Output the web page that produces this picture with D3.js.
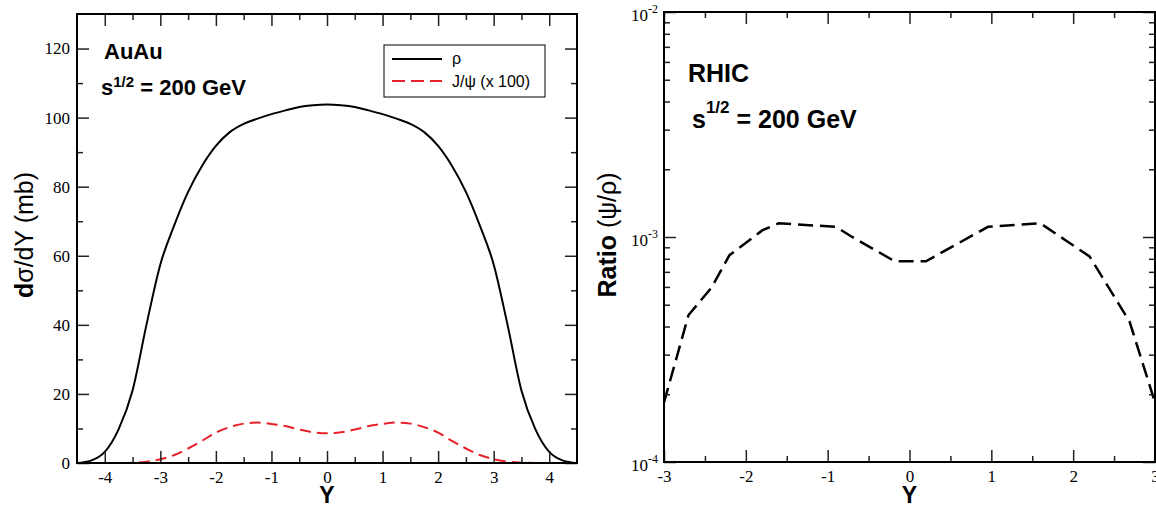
<!DOCTYPE html>
<html>
<head>
<meta charset="utf-8">
<script src="https://cdn.jsdelivr.net/npm/d3@7"></script>
<style>
  body { margin: 0; background: #fff; }
  svg { display: block; }
  .tick text { font-family: "Liberation Serif", "Times New Roman", serif; font-size: 17px; fill: #000; }
  .tick line { stroke: #222; stroke-width: 1.5; }
  .sans { font-family: "Liberation Sans", Arial, Helvetica, sans-serif; }
</style>
</head>
<body>
<svg id="chart" width="1156" height="507"></svg>
<script>
// ----- data -----

// left panel: rho cross section (mb) vs rapidity Y
const rhoY = [-4.5, -4.25, -4, -3.75, -3.5, -3.25, -3, -2.75, -2.5, -2.25, -2, -1.75, -1.5, -1.25, -1, -0.75, -0.5, -0.25, 0,
              0.25, 0.5, 0.75, 1, 1.25, 1.5, 1.75, 2, 2.25, 2.5, 2.75, 3, 3.25, 3.5, 3.75, 4, 4.25, 4.5];
const rhoVals = [0, 0.7, 3.2, 9.8, 21, 40, 57.5, 68.8, 78.5, 86, 91.8, 95.8, 98.2, 99.7, 101, 102.1, 103.1, 103.6, 103.8,
                 103.6, 103.1, 102.1, 101, 99.7, 98.2, 95.8, 91.8, 86, 78.5, 68.8, 57.5, 40, 21, 9.8, 3.2, 0.7, 0];

// left panel: J/psi (x 100)
const psiY = [-4, -3.75, -3.5, -3.25, -3, -2.75, -2.5, -2.25, -2, -1.75, -1.5, -1.25, -1, -0.75, -0.5, -0.25, 0,
              0.25, 0.5, 0.75, 1, 1.25, 1.5, 1.75, 2, 2.25, 2.5, 2.75, 3, 3.25, 3.5, 3.75, 4];
const psiVals = [0, 0.02, 0.1, 0.4, 1.1, 2.3, 4.2, 6.4, 8.8, 10.4, 11.4, 11.7, 11.3, 10.7, 9.7, 8.9, 8.6,
                 8.9, 9.7, 10.7, 11.3, 11.7, 11.4, 10.4, 8.8, 6.4, 4.2, 2.3, 1.1, 0.4, 0.1, 0.02, 0];

// right panel: ratio psi/rho
const ratioY = [-3, -2.7, -2.42, -2.2, -1.8, -1.6, -0.9, -0.72, -0.18, 0.2, 0.96, 1.6, 1.92, 2.2, 2.69, 3];
const ratioVals = [1.84e-4, 4.5e-4, 5.95e-4, 8.3e-4, 1.07e-3, 1.15e-3, 1.11e-3, 1.01e-3, 7.8e-4,
                   7.8e-4, 1.11e-3, 1.15e-3, 9.6e-4, 8.2e-4, 4.2e-4, 1.84e-4];

// ticks
const leftXMajor = [-4, -3, -2, -1, 0, 1, 2, 3, 4];
const leftXMinor = [-3.5, -2.5, -1.5, -0.5, 0.5, 1.5, 2.5, 3.5];
const leftYMajor = [0, 20, 40, 60, 80, 100, 120];
const leftYMinor = [10, 30, 50, 70, 90, 110];
const rightXMajor = [-3, -2, -1, 0, 1, 2, 3];
const rightXMinor = [-2.5, -1.5, -0.5, 0.5, 1.5, 2.5];
const rightYMajor = [1e-4, 1e-3, 1e-2];
const rightYExp = ['-4', '-3', '-2'];
const rightYMinor = [2e-4, 3e-4, 4e-4, 5e-4, 6e-4, 7e-4, 8e-4, 9e-4, 2e-3, 3e-3, 4e-3, 5e-3, 6e-3, 7e-3, 8e-3, 9e-3];

const svg = d3.select('#chart');

// plain hyphen minus like the original
const plainFmt = d => String(d);

// ----- helpers -----
function frameAxes(g, x, y, box, opts) {
  // bottom
  g.append('g').attr('transform', `translate(0,${box.b})`)
    .call(d3.axisBottom(x).tickValues(opts.xMajor).tickSizeInner(-12).tickSizeOuter(0).tickPadding(8).tickFormat(plainFmt))
    .call(a => a.select('.domain').remove());
  g.append('g').attr('transform', `translate(0,${box.b})`)
    .call(d3.axisBottom(x).tickValues(opts.xMinor).tickSize(-6).tickFormat(''))
    .call(a => a.select('.domain').remove());
  // top (mirror)
  g.append('g').attr('transform', `translate(0,${box.t})`)
    .call(d3.axisTop(x).tickValues(opts.xMajor).tickSize(-12).tickFormat(''))
    .call(a => a.select('.domain').remove());
  g.append('g').attr('transform', `translate(0,${box.t})`)
    .call(d3.axisTop(x).tickValues(opts.xMinor).tickSize(-6).tickFormat(''))
    .call(a => a.select('.domain').remove());
  // left
  const left = d3.axisLeft(y).tickValues(opts.yMajor).tickSizeInner(-12).tickSizeOuter(0).tickPadding(7)
    .tickFormat(opts.yFormat || plainFmt);
  g.append('g').attr('transform', `translate(${box.l},0)`)
    .call(left)
    .call(a => a.select('.domain').remove());
  g.append('g').attr('transform', `translate(${box.l},0)`)
    .call(d3.axisLeft(y).tickValues(opts.yMinor).tickSize(-6).tickFormat(''))
    .call(a => a.select('.domain').remove());
  // right (mirror)
  g.append('g').attr('transform', `translate(${box.r},0)`)
    .call(d3.axisRight(y).tickValues(opts.yMajor).tickSize(-12).tickFormat(''))
    .call(a => a.select('.domain').remove());
  g.append('g').attr('transform', `translate(${box.r},0)`)
    .call(d3.axisRight(y).tickValues(opts.yMinor).tickSize(-6).tickFormat(''))
    .call(a => a.select('.domain').remove());
  // frame
  g.append('rect')
    .attr('x', box.l).attr('y', box.t)
    .attr('width', box.r - box.l).attr('height', box.b - box.t)
    .attr('fill', 'none').attr('stroke', '#000').attr('stroke-width', 2);
}

// ===== left panel =====
const L = { l: 77, r: 577, t: 14, b: 463 };
const xL = d3.scaleLinear().domain([-4.5, 4.5]).range([L.l, L.r]);
const yL = d3.scaleLinear().domain([0, 130]).range([L.b, L.t]);

const gL = svg.append('g');
gL.append('clipPath').attr('id', 'clipL')
  .append('rect').attr('x', L.l).attr('y', L.t).attr('width', L.r - L.l).attr('height', L.b - L.t);

const lineL = d3.line().x(d => xL(d[0])).y(d => yL(d[1])).curve(d3.curveMonotoneX);

gL.append('path')
  .datum(d3.zip(psiY, psiVals))
  .attr('clip-path', 'url(#clipL)')
  .attr('d', lineL)
  .attr('fill', 'none').attr('stroke', '#e8202a').attr('stroke-width', 2)
  .attr('stroke-dasharray', '11,6');

gL.append('path')
  .datum(d3.zip(rhoY, rhoVals))
  .attr('clip-path', 'url(#clipL)')
  .attr('d', lineL)
  .attr('fill', 'none').attr('stroke', '#000').attr('stroke-width', 2);

frameAxes(gL, xL, yL, L, { xMajor: leftXMajor, xMinor: leftXMinor, yMajor: leftYMajor, yMinor: leftYMinor });

// legend
const leg = gL.append('g').attr('class', 'sans');
leg.append('rect').attr('x', 384).attr('y', 45).attr('width', 161).attr('height', 52)
  .attr('fill', '#fff').attr('stroke', '#000').attr('stroke-width', 1);
leg.append('line').attr('x1', 392).attr('x2', 442).attr('y1', 59).attr('y2', 59)
  .attr('stroke', '#000').attr('stroke-width', 2);
leg.append('line').attr('x1', 392).attr('x2', 442).attr('y1', 81).attr('y2', 81)
  .attr('stroke', '#e8202a').attr('stroke-width', 2).attr('stroke-dasharray', '13,6');
leg.append('text').attr('x', 452).attr('y', 64).attr('font-size', 16).text('ρ');
leg.append('text').attr('x', 452).attr('y', 87).attr('font-size', 16).text('J/ψ (x 100)');

// annotations
gL.append('text').attr('class', 'sans').attr('x', 104).attr('y', 59)
  .attr('font-size', 22).attr('font-weight', 'bold').text('AuAu');
const sL = gL.append('text').attr('class', 'sans').attr('x', 101).attr('y', 95)
  .attr('font-size', 22).attr('font-weight', 'bold');
sL.append('tspan').text('s');
sL.append('tspan').attr('dy', -8).attr('font-size', 15).text('1/2');
sL.append('tspan').attr('dy', 8).text(' = 200 GeV');

// axis titles
const tL = gL.append('text').attr('class', 'sans')
  .attr('transform', 'translate(33,235) rotate(-90)')
  .attr('text-anchor', 'middle').attr('font-size', 25);
tL.append('tspan').attr('font-weight', 'bold').text('d');
tL.append('tspan').text('σ/dY (mb)');

gL.append('text').attr('class', 'sans').attr('x', xL(0)).attr('y', 503)
  .attr('text-anchor', 'middle').attr('font-size', 23).attr('font-weight', 'bold').text('Y');

// ===== right panel =====
const R = { l: 664, r: 1155, t: 12, b: 462 };
const xR = d3.scaleLinear().domain([-3, 3]).range([R.l, R.r]);
const yR = d3.scaleLog().domain([1e-4, 1e-2]).range([R.b, R.t]);

const gR = svg.append('g');
gR.append('clipPath').attr('id', 'clipR')
  .append('rect').attr('x', R.l).attr('y', R.t).attr('width', R.r - R.l).attr('height', R.b - R.t);

gR.append('path')
  .datum(d3.zip(ratioY, ratioVals))
  .attr('clip-path', 'url(#clipR)')
  .attr('d', d3.line().x(d => xR(d[0])).y(d => yR(d[1])))
  .attr('fill', 'none').attr('stroke', '#000').attr('stroke-width', 2.5)
  .attr('stroke-dasharray', '15,7');

frameAxes(gR, xR, yR, R, { xMajor: rightXMajor, xMinor: rightXMinor, yMajor: rightYMajor, yMinor: rightYMinor, yFormat: () => '' });

// log labels 10^n
rightYMajor.forEach((v, i) => {
  const t = gR.append('text')
    .attr('x', R.l - 6).attr('y', yR(v) + 9)
    .attr('text-anchor', 'end')
    .attr('font-family', '"Liberation Serif", "Times New Roman", serif')
    .attr('font-size', 17);
  t.append('tspan').text('10');
  t.append('tspan').attr('dy', -8).attr('font-size', 12).text(rightYExp[i]);
});

gR.append('text').attr('class', 'sans').attr('x', 688).attr('y', 82)
  .attr('font-size', 25).attr('font-weight', 'bold').text('RHIC');
const sR = gR.append('text').attr('class', 'sans').attr('x', 692).attr('y', 128)
  .attr('font-size', 25).attr('font-weight', 'bold');
sR.append('tspan').text('s');
sR.append('tspan').attr('dy', -15).attr('font-size', 17).text('1/2');
sR.append('tspan').attr('dy', 15).text(' = 200 GeV');

const tR = gR.append('text').attr('class', 'sans')
  .attr('transform', 'translate(616,235) rotate(-90)')
  .attr('text-anchor', 'middle').attr('font-size', 25);
tR.append('tspan').attr('font-weight', 'bold').text('Ratio ');
tR.append('tspan').text('(ψ/ρ)');

gR.append('text').attr('class', 'sans').attr('x', xR(0)).attr('y', 503)
  .attr('text-anchor', 'middle').attr('font-size', 23).attr('font-weight', 'bold').text('Y');
</script>
</body>
</html>
